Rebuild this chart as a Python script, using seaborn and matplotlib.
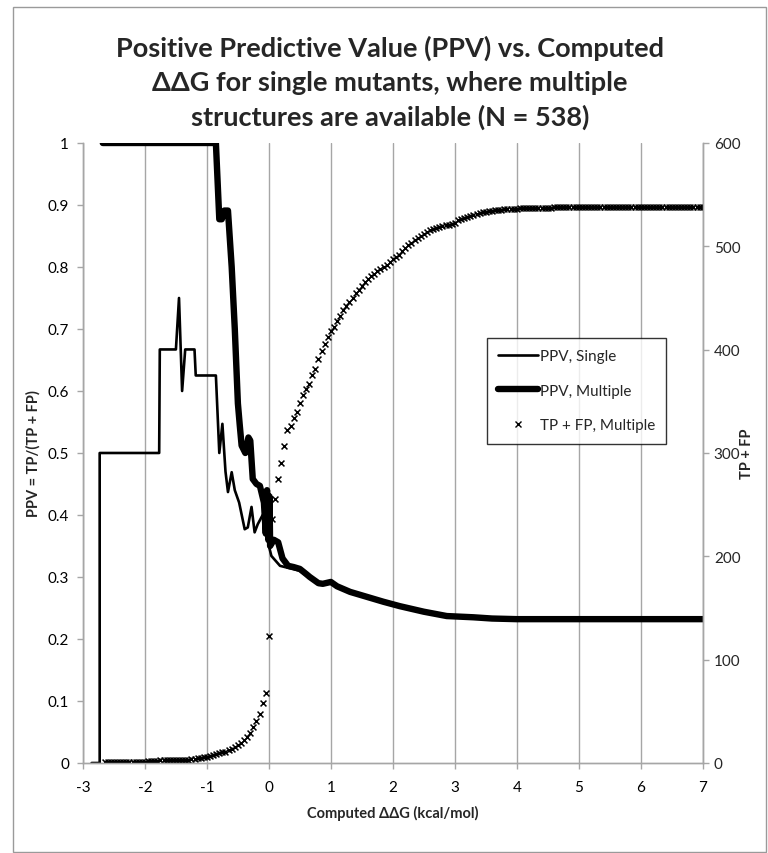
import numpy as np
import matplotlib
matplotlib.use("Agg")
import matplotlib.pyplot as plt
import seaborn as sns
from matplotlib.patches import Rectangle
from matplotlib.lines import Line2D

# PPV, single structure (thin line) - vertices
single_x = [-2.86, -2.73, -2.73, -1.77, -1.76, -1.50, -1.45, -1.40, -1.35, -1.20, -1.18,
            -0.855, -0.80, -0.75, -0.70, -0.66, -0.60, -0.55, -0.48, -0.39, -0.34, -0.28,
            -0.23, -0.18, -0.10, -0.04, 0.00, 0.04, 0.18, 0.30, 0.50, 0.66, 0.87, 1.00,
            1.31, 1.58, 2.11, 2.87, 4.00, 7.00]
single_ppv = [0.0, 0.0, 0.5, 0.5, 0.667, 0.667, 0.75, 0.60, 0.667, 0.667, 0.625,
              0.625, 0.50, 0.547, 0.47, 0.437, 0.469, 0.44, 0.42, 0.377, 0.38, 0.413,
              0.372, 0.385, 0.40, 0.37, 0.35, 0.334, 0.318, 0.315, 0.31, 0.298, 0.288, 0.29,
              0.275, 0.267, 0.252, 0.236, 0.231, 0.231]

# PPV, multiple structures (thick line)
multi_x = [-2.68, -0.855, -0.80, -0.76, -0.72, -0.66, -0.60, -0.55, -0.50, -0.47, -0.44,
           -0.38, -0.33, -0.30, -0.26, -0.20, -0.145, -0.08, -0.05, -0.03, -0.01, 0.01,
           0.02, 0.08, 0.15, 0.22, 0.31, 0.40, 0.50, 0.60, 0.66, 0.80, 0.87, 1.00, 1.10,
           1.31, 1.58, 1.85, 2.11, 2.50, 2.87, 3.30, 3.60, 4.00, 7.00]
multi_ppv = [1.0, 1.0, 0.877, 0.877, 0.891, 0.891, 0.80, 0.70, 0.58, 0.545, 0.512,
             0.50, 0.525, 0.52, 0.458, 0.45, 0.447, 0.42, 0.37, 0.44, 0.36, 0.43,
             0.35, 0.36, 0.356, 0.33, 0.318, 0.316, 0.313, 0.305, 0.30, 0.29, 0.289, 0.292, 0.285,
             0.276, 0.268, 0.26, 0.253, 0.244, 0.237, 0.235, 0.233, 0.232, 0.232]

# TP + FP, multiple structures: counts at each ddG threshold (0.05 kcal/mol steps)
thresholds = np.round(np.arange(-2.65, 7.0001, 0.05), 2)
tp_fp = [
    1, 1, 1, 1, 1, 1, 1, 1, 1, 1, 1, 1, 1, 1, 2, 2, 2, 2, 3, 3,
    3, 3, 3, 3, 3, 3, 3, 3, 4, 4, 5, 5, 6,
    6, 7, 8, 9, 10, 11, 11, 13, 14, 15, 17, 19, 22, 25, 29, 35, 41, 47, 58, 68,
    123, 236, 255, 275, 290, 307, 322, 326, 334, 340, 348, 356, 362, 367, 375, 381,
    391, 399, 405, 412, 418, 422, 428, 433, 438, 442, 446, 450, 455, 458, 462,
    465, 468, 471, 473, 476, 478, 480, 482, 485, 488,
    490, 492, 495, 498, 501, 503, 506, 508, 510, 512,
    514, 516, 517, 518, 519, 520, 521, 521, 522, 523,
    525, 526, 527, 528, 529, 530, 531, 532, 533, 533,
    534, 534, 535, 535, 535, 536, 536, 536, 536, 536,
    537, 537, 537, 537, 537, 537, 537, 537, 537, 537, 537,
    538, 538, 538, 538, 538, 538, 538, 538, 538, 538,
    538, 538, 538, 538, 538, 538, 538, 538, 538, 538,
    538, 538, 538, 538, 538, 538, 538, 538, 538, 538,
    538, 538, 538, 538, 538, 538, 538, 538, 538, 538,
    538, 538, 538, 538, 538, 538, 538, 538, 538,
]

sns.set_style("white")
plt.rcParams['font.family'] = ['Lato', 'DejaVu Sans']
plt.rcParams['axes.unicode_minus'] = False

fig = plt.figure(figsize=(7.68, 8.54), dpi=100)
ax = fig.add_axes([0.108, 0.1054, 0.807, 0.726])
ax2 = ax.twinx()

grid_col = "#a6a6a6"

sns.lineplot(x=single_x, y=single_ppv, ax=ax, sort=False, estimator=None,
             color="black", linewidth=1.9)
sns.lineplot(x=multi_x, y=multi_ppv, ax=ax, sort=False, estimator=None,
             color="black", linewidth=4.6)
sns.scatterplot(x=thresholds, y=tp_fp, ax=ax2, marker="x", color="black",
                s=18, linewidth=1.1)

ax.set_xlim(-3, 7)
ax.set_ylim(0, 1)
ax2.set_ylim(0, 600)
ax.set_xticks(range(-3, 8))
ax.set_yticks(np.round(np.arange(0, 1.01, 0.1), 1))
ax.set_yticklabels(["0"] + [f"{v:.1f}" for v in np.arange(0.1, 0.95, 0.1)] + ["1"])
ax2.set_yticks(range(0, 601, 100))

ax.grid(axis="x", color=grid_col, linewidth=1.0)
ax.grid(axis="y", visible=False)
ax2.grid(False)

for a in (ax, ax2):
    a.spines["top"].set_visible(False)
    for s in ("left", "right", "bottom"):
        a.spines[s].set_color(grid_col)
        a.spines[s].set_linewidth(1.0)

ax.tick_params(axis="both", labelsize=11, colors="black", length=4, width=1.0,
               direction="out", color=grid_col, pad=6)
ax.tick_params(axis="x", bottom=True, pad=8)
ax.tick_params(axis="y", left=True)
ax2.tick_params(axis="y", labelsize=11, right=True, length=4, width=1.0,
                direction="out", color=grid_col, pad=4)

ax.set_xlabel("Computed \u0394\u0394G (kcal/mol)", fontsize=10.5, fontweight="bold", labelpad=8)
ax.set_ylabel("PPV = TP/(TP + FP)", fontsize=10.5, fontweight="bold", labelpad=5)
ax2.set_ylabel("TP + FP", fontsize=10.5, fontweight="bold", labelpad=0)

fig.text(0.508, 0.903,
         "Positive Predictive Value (PPV) vs. Computed\n\u0394\u0394G for single mutants, where multiple\nstructures are available (N = 538)",
         ha="center", va="center", fontsize=19.5, fontweight="bold", linespacing=1.48)

handles = [Line2D([], [], color="black", linewidth=1.9),
           Line2D([], [], color="black", linewidth=4.6),
           Line2D([], [], color="black", marker="x", linestyle="none", markersize=4,
                  markeredgewidth=1.0)]
labels = ["PPV, Single", "PPV, Multiple", "TP + FP, Multiple"]
leg = ax2.legend(handles, labels, loc="upper left", bbox_to_anchor=(0.652, 0.686),
                 fontsize=11, frameon=True, fancybox=False, edgecolor="black",
                 handlelength=2.6, handletextpad=0.1, labelspacing=1.35,
                 borderpad=0.75, borderaxespad=0)
leg.get_frame().set_linewidth(1.0)

fig.patches.append(Rectangle((0.017, 0.001), 0.98, 0.99, transform=fig.transFigure,
                             fill=False, edgecolor="#9a9a9a", linewidth=1.0))

fig.savefig("out.png", dpi=100)
